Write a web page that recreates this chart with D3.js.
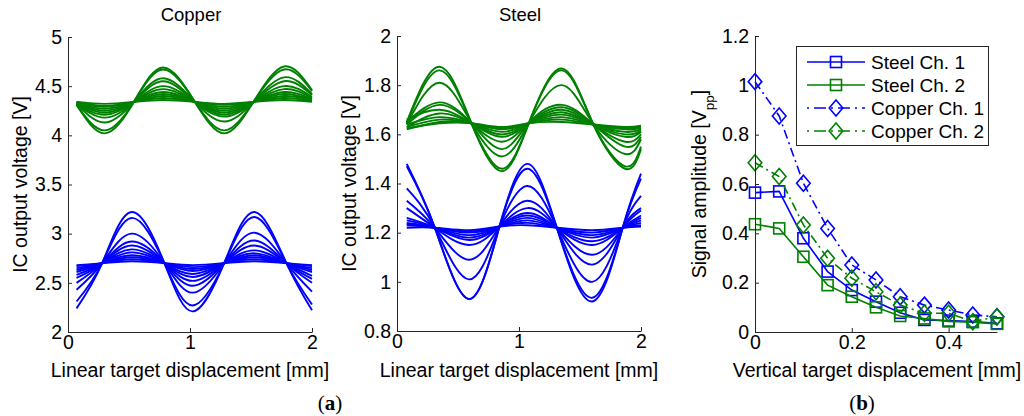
<!DOCTYPE html>
<html>

<head>
  <style>
    body {
      margin: 0;
      background: #FFFFFF;
    }

    svg text {
      font-family: "Liberation Sans", Arial, sans-serif;
      fill: #000000;
    }

    .axis path,
    .axis line {
      stroke: #262626;
    }

    .axis text {
      font-size: 19.5px;
    }
  </style>
</head>

<body>
  <script src="https://d3js.org/d3.v7.min.js"></script>
  <svg id="chart" width="1024" height="416"></svg>

  <script>
    // ---- (a) Copper: sampled at crossings / peaks / troughs ----
    var copperBlueX = [0.07, 0.28, 0.52, 0.79, 1.02, 1.28, 1.53, 1.79, 2.0];
    var copperBlue = [
      [2.24, 2.70, 3.22, 2.70, 2.21, 2.70, 3.22, 2.70, 2.22],
      [2.31, 2.70, 3.16, 2.70, 2.27, 2.70, 3.17, 2.70, 2.28],
      [2.43, 2.70, 3.00, 2.70, 2.40, 2.70, 3.01, 2.70, 2.41],
      [2.50, 2.70, 2.92, 2.70, 2.47, 2.70, 2.93, 2.70, 2.50],
      [2.55, 2.70, 2.88, 2.70, 2.52, 2.70, 2.88, 2.70, 2.54],
      [2.58, 2.70, 2.84, 2.70, 2.56, 2.70, 2.83, 2.70, 2.57],
      [2.61, 2.70, 2.81, 2.70, 2.59, 2.70, 2.80, 2.70, 2.61],
      [2.63, 2.70, 2.78, 2.70, 2.62, 2.70, 2.78, 2.70, 2.63],
      [2.65, 2.70, 2.76, 2.70, 2.64, 2.70, 2.76, 2.70, 2.65],
      [2.67, 2.70, 2.74, 2.70, 2.66, 2.70, 2.74, 2.70, 2.67],
      [2.68, 2.70, 2.72, 2.70, 2.68, 2.70, 2.72, 2.70, 2.68]
    ];
    var copperGreenX = [0.07, 0.30, 0.54, 0.78, 1.04, 1.28, 1.52, 1.77, 2.0];
    var copperGreen = [
      [4.31, 4.02, 4.34, 4.69, 4.34, 4.02, 4.34, 4.70, 4.46],
      [4.31, 4.05, 4.34, 4.67, 4.34, 4.05, 4.34, 4.67, 4.45],
      [4.32, 4.13, 4.34, 4.58, 4.34, 4.14, 4.34, 4.59, 4.42],
      [4.32, 4.18, 4.34, 4.55, 4.34, 4.19, 4.34, 4.55, 4.41],
      [4.32, 4.21, 4.34, 4.50, 4.34, 4.21, 4.34, 4.50, 4.39],
      [4.33, 4.23, 4.34, 4.47, 4.34, 4.23, 4.34, 4.47, 4.38],
      [4.33, 4.25, 4.34, 4.44, 4.34, 4.25, 4.34, 4.44, 4.37],
      [4.33, 4.27, 4.34, 4.42, 4.34, 4.27, 4.34, 4.42, 4.36],
      [4.33, 4.29, 4.34, 4.40, 4.34, 4.29, 4.34, 4.40, 4.36],
      [4.34, 4.30, 4.34, 4.38, 4.34, 4.31, 4.34, 4.38, 4.35],
      [4.34, 4.32, 4.34, 4.36, 4.34, 4.32, 4.34, 4.36, 4.34]
    ];

    // ---- (a) Steel ----
    var steelBlueX = [0.08, 0.31, 0.59, 0.84, 1.07, 1.31, 1.60, 1.85, 2.0];
    var steelBlue = [
      [1.48, 1.22, 0.93, 1.225, 1.48, 1.22, 0.92, 1.22, 1.44],
      [1.47, 1.22, 0.93, 1.225, 1.46, 1.22, 0.935, 1.22, 1.42],
      [1.38, 1.22, 1.01, 1.225, 1.39, 1.22, 1.00, 1.22, 1.35],
      [1.33, 1.22, 1.09, 1.225, 1.33, 1.22, 1.07, 1.22, 1.30],
      [1.30, 1.22, 1.15, 1.225, 1.30, 1.22, 1.11, 1.22, 1.29],
      [1.26, 1.22, 1.17, 1.225, 1.28, 1.22, 1.15, 1.22, 1.27],
      [1.25, 1.22, 1.18, 1.225, 1.27, 1.22, 1.165, 1.22, 1.26],
      [1.24, 1.22, 1.19, 1.225, 1.26, 1.22, 1.18, 1.22, 1.25],
      [1.235, 1.22, 1.20, 1.225, 1.25, 1.22, 1.19, 1.22, 1.24],
      [1.23, 1.22, 1.205, 1.225, 1.24, 1.22, 1.20, 1.22, 1.23],
      [1.22, 1.22, 1.21, 1.225, 1.23, 1.22, 1.21, 1.22, 1.225]
    ];
    var steelGreenX = [0.08, 0.35, 0.61, 0.86, 1.08, 1.35, 1.61, 1.87, 2.0];
    var steelGreen = [
      [1.65, 1.875, 1.645, 1.45, 1.645, 1.868, 1.64, 1.46, 1.54],
      [1.645, 1.86, 1.645, 1.46, 1.645, 1.86, 1.64, 1.47, 1.55],
      [1.64, 1.81, 1.645, 1.51, 1.645, 1.80, 1.64, 1.52, 1.58],
      [1.65, 1.73, 1.645, 1.54, 1.645, 1.72, 1.64, 1.55, 1.59],
      [1.64, 1.72, 1.645, 1.57, 1.645, 1.71, 1.64, 1.57, 1.60],
      [1.66, 1.70, 1.645, 1.59, 1.645, 1.70, 1.64, 1.59, 1.61],
      [1.63, 1.685, 1.645, 1.60, 1.645, 1.69, 1.64, 1.60, 1.615],
      [1.64, 1.67, 1.645, 1.61, 1.645, 1.68, 1.64, 1.61, 1.62],
      [1.63, 1.66, 1.645, 1.62, 1.645, 1.67, 1.64, 1.62, 1.625],
      [1.62, 1.65, 1.645, 1.625, 1.645, 1.66, 1.64, 1.625, 1.63],
      [1.625, 1.645, 1.645, 1.63, 1.645, 1.65, 1.64, 1.63, 1.635]
    ];

    // ---- (b) amplitude vs vertical displacement ----
    var vertX = [0, 0.05, 0.1, 0.15, 0.2, 0.25, 0.3, 0.35, 0.4, 0.45, 0.5];
    var steelCh1 = [0.565, 0.57, 0.38, 0.245, 0.17, 0.123, 0.078, 0.049, 0.046, 0.042, 0.035];
    var steelCh2 = [0.437, 0.42, 0.305, 0.19, 0.143, 0.10, 0.065, 0.055, 0.043, 0.04, 0.033];
    var copperCh1 = [1.015, 0.876, 0.603, 0.42, 0.272, 0.211, 0.143, 0.109, 0.089, 0.069, 0.062];
    var copperCh2 = [0.686, 0.63, 0.434, 0.299, 0.218, 0.163, 0.109, 0.076, 0.076, 0.042, 0.062];
    var legendNames = ["Steel Ch. 1", "Steel Ch. 2", "Copper Ch. 1", "Copper Ch. 2"];

    var copperTicks = [2, 2.5, 3, 3.5, 4, 4.5, 5];
    var steelTicks = [0.8, 1, 1.2, 1.4, 1.6, 1.8, 2];
    var linTicks = [0, 1, 2];
    var ampTicks = [0, 0.2, 0.4, 0.6, 0.8, 1, 1.2];
    var vertTicks = [0, 0.2, 0.4];

    var BLUE = "#0000FF";
    var GREEN = "#008000";
    var svg = d3.select("#chart");

    //draws the two left/bottom axes MATLAB style (ticks pointing in)
    function drawAxes(x, y, xTicks, yTicks) {
      svg.append("g")
        .attr("class", "axis")
        .attr("transform", "translate(0," + y.range()[0] + ")")
        .call(d3.axisBottom(x).tickValues(xTicks).tickFormat(d3.format("~g"))
          .tickSizeInner(-4).tickSizeOuter(0).tickPadding(3));
      svg.append("g")
        .attr("class", "axis")
        .attr("transform", "translate(" + x.range()[0] + ",0)")
        .call(d3.axisLeft(y).tickValues(yTicks).tickFormat(d3.format("~g"))
          .tickSizeInner(-4).tickSizeOuter(0).tickPadding(6));
    }

    function wavePanel(xr, yr, yDomain, yTicks, title, groups) {
      var x = d3.scaleLinear().domain([0, 2]).range(xr);
      var y = d3.scaleLinear().domain(yDomain).range(yr);
      var line = d3.line()
        .x(function(d) { return x(d[0]); })
        .y(function(d) { return y(d[1]); })
        .curve(d3.curveNatural);

      groups.forEach(function(gr) {
        svg.append("g").selectAll("path")
          .data(gr.curves)
          .enter()
          .append("path")
          .attr("d", function(c) {
            return line(c.map(function(v, i) { return [gr.xs[i], v]; }));
          })
          .attr("fill", "none")
          .attr("stroke", gr.color)
          .attr("stroke-width", 1.9);
      });

      drawAxes(x, y, linTicks, yTicks);

      var cx = (xr[0] + xr[1]) / 2;
      svg.append("text").attr("x", cx + 1).attr("y", 21)
        .attr("text-anchor", "middle").style("font-size", "18.5px").text(title);
      svg.append("text").attr("x", cx).attr("y", 377)
        .attr("text-anchor", "middle").style("font-size", "19.5px")
        .text("Linear target displacement [mm]");
      svg.append("text")
        .attr("transform", "translate(" + (xr[0] - 41) + "," + ((yr[0] + yr[1]) / 2) + ") rotate(-90)")
        .attr("text-anchor", "middle").style("font-size", "19.5px")
        .text("IC output voltage [V]");
    }

    wavePanel([68, 312], [332, 37], [2, 5], copperTicks, "Copper", [
      { xs: copperGreenX, curves: copperGreen, color: GREEN },
      { xs: copperBlueX, curves: copperBlue, color: BLUE }
    ]);
    wavePanel([397, 641], [331, 36], [0.8, 2], steelTicks, "Steel", [
      { xs: steelGreenX, curves: steelGreen, color: GREEN },
      { xs: steelBlueX, curves: steelBlue, color: BLUE }
    ]);

    // ---- panel (b) ----
    var xb = d3.scaleLinear().domain([0, 0.5]).range([755, 997]);
    var yb = d3.scaleLinear().domain([0, 1.2]).range([332, 36]);

    var series = [
      { vals: steelCh1, color: BLUE, dash: null, marker: "square" },
      { vals: steelCh2, color: GREEN, dash: null, marker: "square" },
      { vals: copperCh1, color: BLUE, dash: "9,4,2,4", marker: "diamond" },
      { vals: copperCh2, color: GREEN, dash: "9,4,2,4", marker: "diamond" }
    ];

    var lineB = d3.line()
      .x(function(d) { return xb(d[0]); })
      .y(function(d) { return yb(d[1]); });

    function marker(g, type, px, py, color) {
      if (type === "square") {
        g.append("rect")
          .attr("x", px - 5.5).attr("y", py - 5.5)
          .attr("width", 11).attr("height", 11)
          .attr("fill", "none").attr("stroke", color).attr("stroke-width", 1.6);
      } else {
        var r = 8;
        g.append("path")
          .attr("d", "M" + px + "," + (py - r) + "L" + (px + r * 0.85) + "," + py +
            "L" + px + "," + (py + r) + "L" + (px - r * 0.85) + "," + py + "Z")
          .attr("fill", "none").attr("stroke", color).attr("stroke-width", 1.6);
      }
    }

    series.forEach(function(s) {
      var pts = s.vals.map(function(v, i) { return [vertX[i], v]; });
      svg.append("path")
        .attr("d", lineB(pts))
        .attr("fill", "none")
        .attr("stroke", s.color)
        .attr("stroke-width", 1.6)
        .attr("stroke-dasharray", s.dash);
      var g = svg.append("g");
      pts.forEach(function(p) {
        marker(g, s.marker, xb(p[0]), yb(p[1]), s.color);
      });
    });

    drawAxes(xb, yb, vertTicks, ampTicks);

    svg.append("text").attr("x", 877).attr("y", 377)
      .attr("text-anchor", "middle").style("font-size", "19.5px")
      .text("Vertical target displacement [mm]");
    var ylab = svg.append("text")
      .attr("transform", "translate(" + 706 + "," + 184 + ") rotate(-90)")
      .attr("text-anchor", "middle").style("font-size", "19.5px");
    ylab.append("tspan").text("Signal amplitude [V");
    ylab.append("tspan").attr("baseline-shift", "sub").style("font-size", "13.5px").text("pp");
    ylab.append("tspan").text("]");

    //legend
    var leg = svg.append("g");
    leg.append("rect")
      .attr("x", 796.5).attr("y", 46.5).attr("width", 192).attr("height", 99)
      .attr("fill", "#FFFFFF").attr("stroke", "#262626").attr("stroke-width", 1);
    legendNames.forEach(function(name, i) {
      var ly = 62 + i * 23;
      var s = series[i];
      leg.append("line")
        .attr("x1", 807).attr("x2", 865).attr("y1", ly).attr("y2", ly)
        .attr("stroke", s.color).attr("stroke-width", 1.6)
        .attr("stroke-dasharray", s.dash ? "2,5,12,5" : null);
      marker(leg, s.marker, 836, ly, s.color);
      leg.append("text").attr("x", 871).attr("y", ly + 7)
        .style("font-size", "19px").text(name);
    });

    // panel tags
    function tag(x, letter) {
      var t = svg.append("text").attr("x", x).attr("y", 410)
        .attr("text-anchor", "middle")
        .style("font-family", "'Liberation Serif', 'DejaVu Serif', serif")
        .style("font-size", "21px");
      t.append("tspan").text("(");
      t.append("tspan").style("font-weight", "bold").text(letter);
      t.append("tspan").text(")");
    }
    tag(330, "a");
    tag(862, "b");
  </script>
</body>

</html>
